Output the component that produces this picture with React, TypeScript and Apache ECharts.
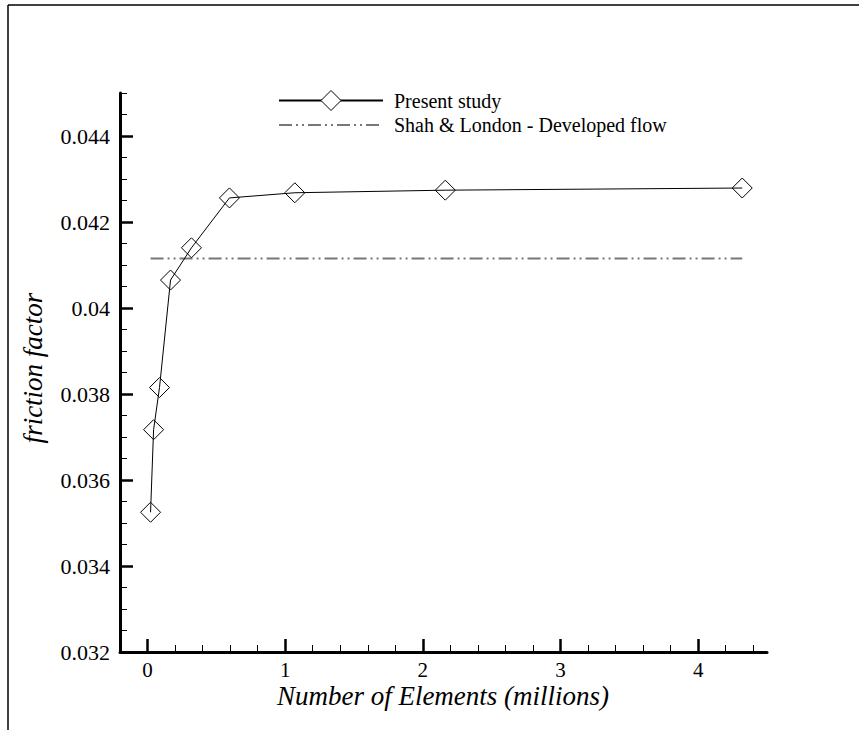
import React, { useEffect, useRef } from "react";
import * as echarts from "echarts";

const studyX = [0.022, 0.044, 0.087, 0.167, 0.319, 0.595, 1.07, 2.163, 4.32];
const studyY = [0.03525, 0.03717, 0.03815, 0.04065, 0.0414, 0.04256, 0.04268, 0.04274, 0.04279];
const shahX = [0.022, 4.32];
const shahY = [0.04115, 0.04115];
const xMajor = [0, 1, 2, 3, 4];
const xMinor = [0.2, 0.4, 0.6, 0.8, 1.2, 1.4, 1.6, 1.8, 2.2, 2.4, 2.6, 2.8, 3.2, 3.4, 3.6, 3.8, 4.2, 4.4];
const yMajor = [0.032, 0.034, 0.036, 0.038, 0.04, 0.042, 0.044];
const yMinor = [0.0325, 0.033, 0.0335, 0.0345, 0.035, 0.0355, 0.0365, 0.037, 0.0375, 0.0385, 0.039, 0.0395, 0.0405, 0.041, 0.0415, 0.0425, 0.043, 0.0435, 0.0445, 0.045];

const FONT = "Liberation Serif";

export default function App() {
  const ref = useRef<HTMLDivElement>(null);
  useEffect(() => {
    if (!ref.current) return;
    const chart = echarts.init(ref.current, null, { renderer: "svg" });
    const gridRect = { left: 120, right: 92, top: 93, bottom: 78, containLabel: false };
    const baseX = { type: "value", min: -0.2, max: 4.5, splitLine: { show: false } };
    const baseY = { type: "value", min: 0.032, max: 0.045, splitLine: { show: false } };
    chart.setOption({
      animation: false,
      backgroundColor: "#fff",
      grid: [gridRect, gridRect],
      legend: {
        orient: "vertical",
        left: 273,
        top: 85,
        itemWidth: 104,
        itemHeight: 25,
        itemGap: 4,
        selectedMode: false,
        textStyle: { fontFamily: FONT, fontSize: 20, color: "#000", padding: [0, 0, 0, 6] },
        data: [
          { name: "Present study", itemStyle: { color: "#fff", borderColor: "#000", borderWidth: 1 } },
          { name: "Shah & London - Developed flow", itemStyle: { opacity: 0, color: "rgba(0,0,0,0)", borderWidth: 0 } },
        ],
      },
      xAxis: [
        {
          ...baseX,
          gridIndex: 0,
          axisLine: { show: true, onZero: false, lineStyle: { color: "#000", width: 3 } },
          axisTick: { show: true, inside: true, length: 13, customValues: xMajor, lineStyle: { color: "#000", width: 2.5 } },
          axisLabel: { customValues: xMajor, margin: 7, fontFamily: FONT, fontSize: 21, color: "#000" },
        },
        {
          ...baseX,
          gridIndex: 1,
          axisLine: { show: false, onZero: false },
          axisTick: { show: true, inside: true, length: 7, customValues: xMinor, lineStyle: { color: "#000", width: 1 } },
          axisLabel: { show: false },
        },
      ],
      yAxis: [
        {
          ...baseY,
          gridIndex: 0,
          axisLine: { show: true, onZero: false, lineStyle: { color: "#000", width: 3 } },
          axisTick: { show: true, inside: true, length: 13, customValues: yMajor, lineStyle: { color: "#000", width: 2.5 } },
          axisLabel: { customValues: yMajor, margin: 10, fontFamily: FONT, fontSize: 22, color: "#000" },
        },
        {
          ...baseY,
          gridIndex: 1,
          axisLine: { show: false, onZero: false },
          axisTick: { show: true, inside: true, length: 7, customValues: yMinor, lineStyle: { color: "#000", width: 1 } },
          axisLabel: { show: false },
        },
      ],
      series: [
        {
          name: "Shah & London - Developed flow",
          type: "line",
          xAxisIndex: 0,
          yAxisIndex: 0,
          data: shahX.map((x, i) => [x, shahY[i]]),
          symbol: "none",
          lineStyle: { color: "#777", width: 2, type: [13, 4, 2, 4, 2, 4] },
          itemStyle: { color: "#777" },
        },
        {
          name: "Present study",
          type: "line",
          xAxisIndex: 0,
          yAxisIndex: 0,
          data: studyX.map((x, i) => [x, studyY[i]]),
          symbol: "diamond",
          symbolSize: 20,
          lineStyle: { color: "#000", width: 1 },
          itemStyle: { color: "rgba(0,0,0,0)", borderColor: "#000", borderWidth: 1 },
        },
      ],
      graphic: [
        { type: "line", shape: { x1: 8, y1: 5, x2: 859, y2: 5 }, style: { stroke: "#000", lineWidth: 1.5 } },
        { type: "line", shape: { x1: 8, y1: 5, x2: 8, y2: 730 }, style: { stroke: "#000", lineWidth: 1.5 } },
        {
          type: "text",
          x: 443,
          y: 696,
          style: {
            text: "Number of Elements (millions)",
            font: `italic 27px "${FONT}"`,
            fill: "#000",
            textAlign: "center",
            textVerticalAlign: "middle",
          },
        },
        {
          type: "text",
          x: 33,
          y: 368,
          rotation: Math.PI / 2,
          style: {
            text: "friction factor",
            font: `italic 27px "${FONT}"`,
            fill: "#000",
            textAlign: "center",
            textVerticalAlign: "middle",
          },
        },
      ],
    });
    return () => chart.dispose();
  }, []);
  return (
    <div
      ref={ref}
      style={{ position: "fixed", left: 0, top: 0, width: 859, height: 730, background: "#fff" }}
    />
  );
}
